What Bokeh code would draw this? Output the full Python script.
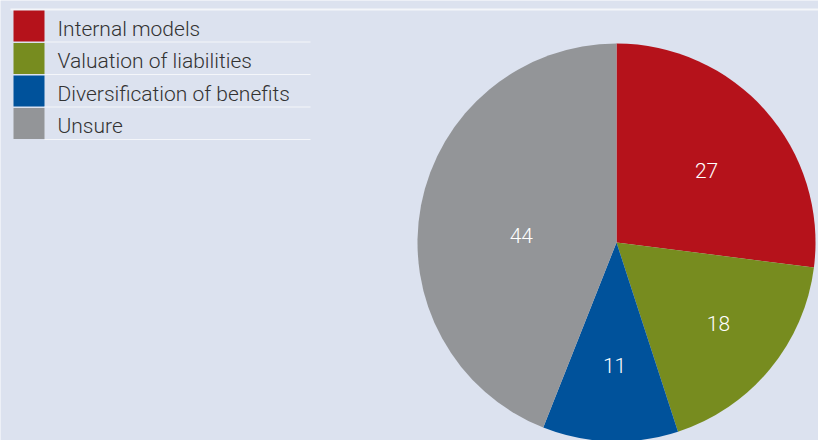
import math
from bokeh.plotting import figure
from bokeh.models import Range1d, ColumnDataSource
from bokeh.core.properties import value
from bokeh.embed import file_html
from bokeh.resources import INLINE

categories = ["Internal models", "Valuation of liabilities", "Diversification of benefits", "Unsure"]
values = [27, 18, 11, 44]
colors = ["#b5121b", "#778c1f", "#00529b", "#939598"]
label_radius = [0.58, 0.655, 0.62, 0.48]
label_nudge_deg = [-2.7, 1.1, 0.9, 6.3]

W, H = 818, 440
BG = "#dce2ef"
LINE = "#f4f6fa"
FONT = "Roboto Light"

p = figure(width=W, height=H, output_backend="svg", toolbar_location=None,
           x_range=Range1d(0, W), y_range=Range1d(0, H), min_border=0)
p.axis.visible = False
p.grid.visible = False
p.outline_line_color = None
p.background_fill_color = BG
p.border_fill_color = BG

def Y(ys):
    return H - ys

# top rule
p.segment(x0=[10], y0=[Y(9)], x1=[W], y1=[Y(9)], line_color=LINE, line_width=2)

# pie
cx, cy, r = 616, Y(242), 199
total = sum(values)
starts, ends, mids = [], [], []
acc = 0
for v in values:
    a0 = math.pi / 2 - 2 * math.pi * acc / total
    a1 = math.pi / 2 - 2 * math.pi * (acc + v) / total
    starts.append(a0)
    ends.append(a1)
    mids.append((a0 + a1) / 2)
    acc += v
src = ColumnDataSource(dict(start=starts, end=ends, color=colors))
p.wedge(x=cx, y=cy, radius=r, start_angle="start", end_angle="end",
        direction="clock", fill_color="color", line_color=None, source=src)

angs = [m + math.radians(d) for m, d in zip(mids, label_nudge_deg)]
lx = [cx + lr * r * math.cos(a) for lr, a in zip(label_radius, angs)]
ly = [cy + lr * r * math.sin(a) for lr, a in zip(label_radius, angs)]
p.text(x=lx, y=ly, text=[str(v) for v in values], text_color="white",
       text_font=value(FONT), text_font_size="21px",
       text_align="center", text_baseline="middle")

# legend
row_top = 10
pitch = 32.5
n = len(categories)
tops = [row_top + i * pitch for i in range(n)]
p.quad(left=13, right=44, top=[Y(t) for t in tops], bottom=[Y(t + 31) for t in tops],
       fill_color=colors, line_color=None)
seps = [t + 31.5 for t in tops]
p.segment(x0=44, x1=310, y0=[Y(s) for s in seps], y1=[Y(s) for s in seps],
          line_color=LINE, line_width=1.2)
p.text(x=57, y=[Y(t + 18) for t in tops], text=categories, text_color="#333333",
       text_font=value(FONT), text_font_size="21px", text_baseline="middle")

open("out.html", "w").write(file_html(p, INLINE))
